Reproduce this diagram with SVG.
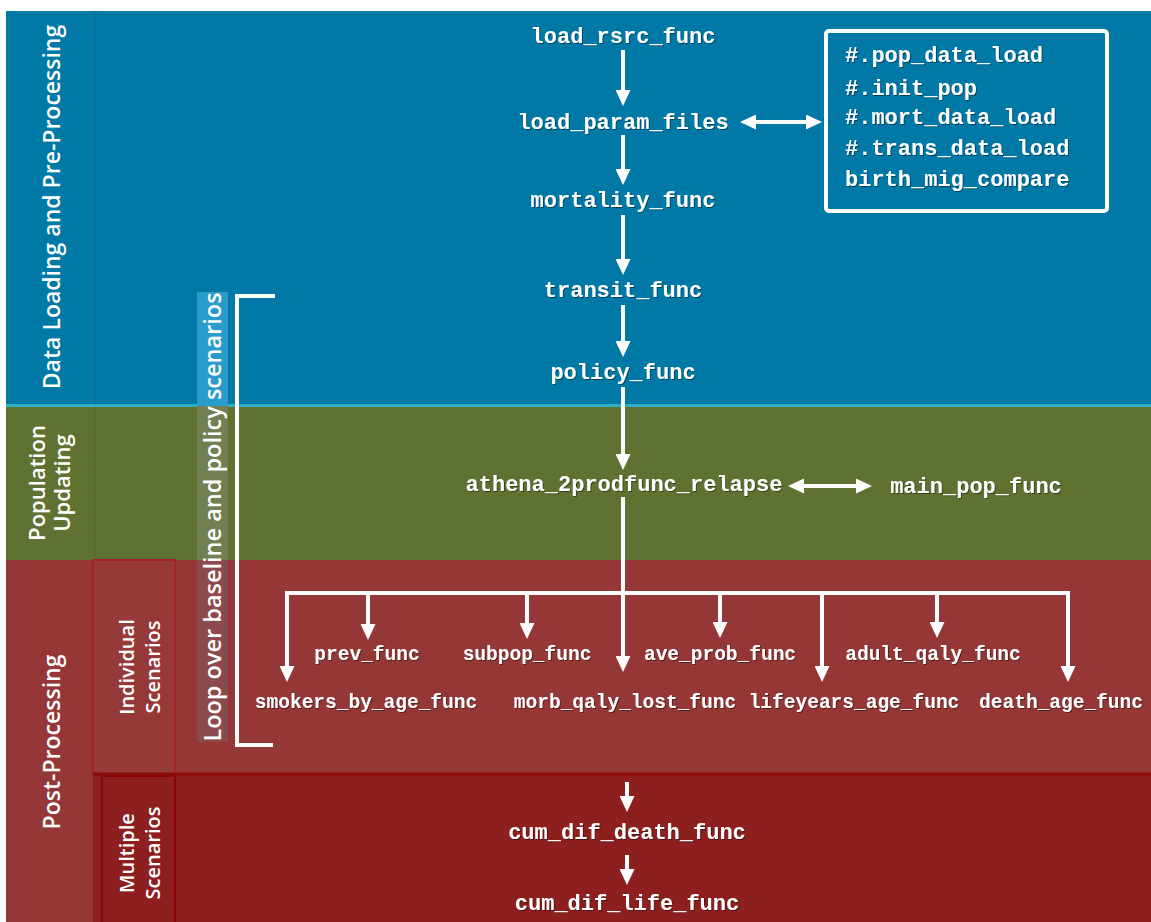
<svg xmlns="http://www.w3.org/2000/svg" width="1151" height="922" viewBox="0 0 1151 922">
<style>
.fn{font-family:"Liberation Mono","Courier New",monospace;font-weight:bold;font-size:22px;fill:#fff;text-anchor:middle;filter:url(#sh)}
.fs{font-size:19.5px}
.bx{text-anchor:start}
.lab{font-family:"Open Sans","Noto Sans",sans-serif;font-weight:600;fill:#fff;text-anchor:middle}
.ar{stroke:#fff;stroke-width:4;fill:none;marker-end:url(#ah)}
.dar{stroke:#fff;stroke-width:4;fill:none;marker-end:url(#ah);marker-start:url(#ah)}
</style>
<defs>
<marker id="ah" markerUnits="userSpaceOnUse" markerWidth="16" markerHeight="15" viewBox="0 0 16 15" refX="2" refY="7.5" orient="auto-start-reverse">
<path d="M0,0 L16,7.5 L0,15 z" fill="#fff"/>
</marker>
<filter id="sh" x="-5%" y="-20%" width="110%" height="150%">
<feDropShadow dx="1" dy="1" stdDeviation="0.6" flood-color="#000" flood-opacity="0.45"/>
</filter>
</defs>
<rect width="1151" height="922" fill="#fff"/>
<g id="bands">
<rect x="6" y="11" width="1145" height="395" fill="#0079A6"/>
<rect x="6" y="404" width="1145" height="3" fill="#2DB0C6"/>
<rect x="6" y="407" width="1145" height="153" fill="#5F7231"/>
<rect x="6" y="560" width="1145" height="362" fill="#963737"/>
<rect x="93" y="774" width="1058" height="148" fill="#8D1F1F"/>
<line x1="95.5" y1="11" x2="95.5" y2="404" stroke="#0A6F98" stroke-width="2"/>
<line x1="95.5" y1="407" x2="95.5" y2="560" stroke="#586A2E" stroke-width="2"/>
<rect x="93" y="560" width="82" height="214" fill="#953939" stroke="#A71E2E" stroke-width="2"/>
<line x1="93" y1="774" x2="1151" y2="774" stroke="#8B0A0A" stroke-width="3"/>
<rect x="102" y="776" width="73" height="150" fill="#8D1F1F" stroke="#8A0505" stroke-width="2"/>
</g>
<g id="phase-labels">
<text class="lab" font-size="23" transform="translate(60,207) rotate(-90)">Data Loading and Pre-Processing</text>
<text class="lab" font-size="22" transform="translate(45,483) rotate(-90)">Population</text>
<text class="lab" font-size="22" transform="translate(70,483) rotate(-90)">Updating</text>
<text class="lab" font-size="23" transform="translate(60,742) rotate(-90)">Post-Processing</text>
<text class="lab" font-size="20" transform="translate(134,667) rotate(-90)">Individual</text>
<text class="lab" font-size="20" transform="translate(160,667) rotate(-90)">Scenarios</text>
<text class="lab" font-size="20" transform="translate(134,853) rotate(-90)">Multiple</text>
<text class="lab" font-size="20" transform="translate(160,853) rotate(-90)">Scenarios</text>
</g>
<g id="loop">
<rect x="197" y="292" width="31" height="114" fill="#2A9CCB"/>
<rect x="197" y="406" width="31" height="154" fill="#717F53"/>
<rect x="197" y="560" width="31" height="182" fill="#8D4A4C"/>
<text class="lab" font-size="23.5" transform="translate(221,517) rotate(-90)">Loop over baseline and policy scenarios</text>
<path d="M275,296 H237 V745 H273" stroke="#fff" stroke-width="4" fill="none"/>
</g>
<g id="connectors">
<line class="ar" x1="623" y1="50" x2="623" y2="92"/>
<line class="ar" x1="623" y1="135" x2="623" y2="171"/>
<line class="ar" x1="623" y1="215" x2="623" y2="261"/>
<line class="ar" x1="623" y1="305" x2="623" y2="343"/>
<line class="ar" x1="623" y1="387" x2="623" y2="456"/>
<line class="dar" x1="754" y1="122" x2="808" y2="122"/>
<line class="dar" x1="802" y1="486" x2="858" y2="486"/>
<line class="ar" x1="623" y1="497" x2="623" y2="658"/>
<path class="dar" d="M287,668 V593 H1068 V668"/>
<line class="ar" x1="368" y1="593" x2="368" y2="626"/>
<line class="ar" x1="527" y1="593" x2="527" y2="625"/>
<line class="ar" x1="720" y1="593" x2="720" y2="624"/>
<line class="ar" x1="822" y1="593" x2="822" y2="668"/>
<line class="ar" x1="937" y1="593" x2="937" y2="624"/>
<line class="ar" x1="627" y1="782" x2="627" y2="798"/>
<line class="ar" x1="627" y1="855" x2="627" y2="871"/>
</g>
<g id="load_rsrc_func"><text class="fn" x="623" y="43">load_rsrc_func</text></g>
<g id="load_param_files"><text class="fn" x="623" y="129">load_param_files</text></g>
<g id="data_box">
<rect x="826" y="31" width="281" height="180" rx="3" fill="none" stroke="#fff" stroke-width="4"/>
<text class="fn bx" x="845" y="62">#.pop_data_load</text>
<text class="fn bx" x="845" y="95">#.init_pop</text>
<text class="fn bx" x="845" y="124">#.mort_data_load</text>
<text class="fn bx" x="845" y="155">#.trans_data_load</text>
<text class="fn bx" x="845" y="186">birth_mig_compare</text>
</g>
<g id="mortality_func"><text class="fn" x="623" y="207">mortality_func</text></g>
<g id="transit_func"><text class="fn" x="623" y="297">transit_func</text></g>
<g id="policy_func"><text class="fn" x="623" y="379">policy_func</text></g>
<g id="athena_2prodfunc_relapse"><text class="fn" x="624" y="491">athena_2prodfunc_relapse</text></g>
<g id="main_pop_func"><text class="fn" x="976" y="493">main_pop_func</text></g>
<g id="prev_func"><text class="fn fs" x="367" y="660">prev_func</text></g>
<g id="subpop_func"><text class="fn fs" x="527" y="660">subpop_func</text></g>
<g id="ave_prob_func"><text class="fn fs" x="720" y="660">ave_prob_func</text></g>
<g id="adult_qaly_func"><text class="fn fs" x="933" y="660">adult_qaly_func</text></g>
<g id="smokers_by_age_func"><text class="fn fs" x="366" y="708">smokers_by_age_func</text></g>
<g id="morb_qaly_lost_func"><text class="fn fs" x="625" y="708">morb_qaly_lost_func</text></g>
<g id="lifeyears_age_func"><text class="fn fs" x="854" y="708">lifeyears_age_func</text></g>
<g id="death_age_func"><text class="fn fs" x="1061" y="708">death_age_func</text></g>
<g id="cum_dif_death_func"><text class="fn" x="627" y="839">cum_dif_death_func</text></g>
<g id="cum_dif_life_func"><text class="fn" x="627" y="910">cum_dif_life_func</text></g>
</svg>
